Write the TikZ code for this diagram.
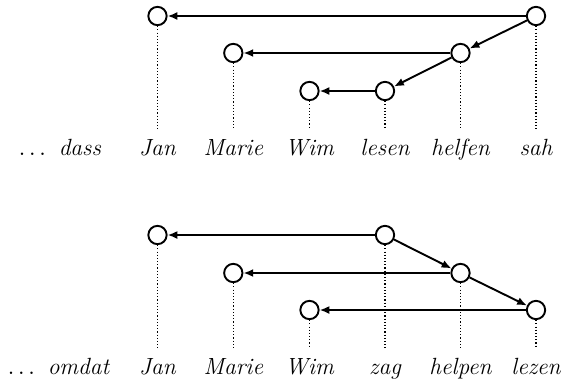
\documentclass[tikz,border=0pt]{standalone}
\usetikzlibrary{arrows.meta}
\begin{document}
\begin{tikzpicture}[x=0.4695pt,y=-0.4695pt,
  vtx/.style={circle,draw,line width=0.9pt,minimum size=8.6pt,inner sep=0pt},
  dep/.style={line width=0.9pt,-{Latex[length=4.6pt,width=3.8pt]}},
  tie/.style={line width=0.55pt,dash pattern=on 0.55pt off 0.95pt},
  lbl/.style={anchor=base,inner sep=0pt,font=\fontsize{11}{13.5}\selectfont},
  word/.style={lbl,font=\fontsize{11}{13.5}\selectfont\itshape}]
\useasboundingbox (0,0) rectangle (561,381);

% ---- upper clause: dass Jan Marie Wim lesen helfen sah ----
\node[vtx] (a1) at (157.5,16) {};
\node[vtx] (a2) at (233.3,53) {};
\node[vtx] (a3) at (309.5,91) {};
\node[vtx] (a4) at (385,91) {};
\node[vtx] (a5) at (460.5,53) {};
\node[vtx] (a6) at (536,16) {};

\foreach \n in {1,...,6} \coordinate (ae\n) at (a\n |- 0,129);
\foreach \n in {1,...,6} \draw[tie] (a\n) -- (ae\n);

\draw[dep] (a6) -- (a1);
\draw[dep] (a6) -- (a5);
\draw[dep] (a5) -- (a2);
\draw[dep] (a5) -- (a4);
\draw[dep] (a4) -- (a3);

\node[lbl] (ac) at (60,155) {$\ldots$\hspace{6pt}\textit{dass}};
\node[word] (aw1) at (157.5,155) {Jan};
\node[word] (aw2) at (233.3,155) {Marie};
\node[word] (aw3) at (309.5,155) {Wim};
\node[word] (aw4) at (385,155) {lesen};
\node[word] (aw5) at (460.5,155) {helfen};
\node[word] (aw6) at (536,155) {sah};

% ---- lower clause: omdat Jan Marie Wim zag helpen lezen ----
\node[vtx] (b1) at (157.5,235) {};
\node[vtx] (b2) at (233.3,273) {};
\node[vtx] (b3) at (309.5,310) {};
\node[vtx] (b4) at (385,235) {};
\node[vtx] (b5) at (460.5,273) {};
\node[vtx] (b6) at (536,310) {};

\foreach \n in {1,...,6} \coordinate (be\n) at (b\n |- 0,348);
\foreach \n in {1,...,6} \draw[tie] (b\n) -- (be\n);

\draw[dep] (b4) -- (b1);
\draw[dep] (b4) -- (b5);
\draw[dep] (b5) -- (b2);
\draw[dep] (b5) -- (b6);
\draw[dep] (b6) -- (b3);

\node[lbl] (bc) at (59,374) {$\ldots$\hspace{6pt}\textit{omdat}};
\node[word] (bw1) at (157.5,374) {Jan};
\node[word] (bw2) at (233.3,374) {Marie};
\node[word] (bw3) at (309.5,374) {Wim};
\node[word] (bw4) at (385,374) {zag};
\node[word] (bw5) at (460.5,374) {helpen};
\node[word] (bw6) at (536,374) {lezen};
\end{tikzpicture}
\end{document}
